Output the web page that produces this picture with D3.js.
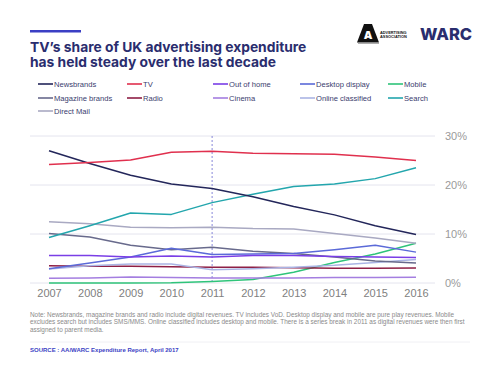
<!DOCTYPE html>
<html>
<head>
<meta charset="utf-8">
<script src="https://d3js.org/d3.v7.min.js"></script>
<style>
  body { margin: 0; background: #fff; }
  svg { display: block; }
</style>
</head>
<body>
<div id="chart"></div>
<script>

// data (share of UK ad spend, %)
var years = [2007, 2008, 2009, 2010, 2011, 2012, 2013, 2014, 2015, 2016];
var newsbrands     = [27.0, 24.4, 22.0, 20.2, 19.3, 17.6, 15.6, 13.9, 11.7, 9.9];
var tv             = [24.2, 24.6, 25.1, 26.7, 26.9, 26.5, 26.4, 26.3, 25.7, 25.0];
var outOfHome      = [5.6, 5.6, 5.3, 5.5, 5.3, 5.6, 5.6, 5.4, 5.3, 5.2];
var desktopDisplay = [2.9, 4.1, 5.3, 7.1, 5.8, 5.9, 6.0, 6.8, 7.7, 6.3];
var mobile         = [0.0, 0.0, 0.0, 0.05, 0.3, 0.7, 2.2, 4.2, 5.9, 8.1];
var magazineBrands = [10.1, 9.4, 7.7, 6.8, 7.3, 6.5, 6.0, 5.3, 4.5, 4.1];
var radio          = [3.5, 3.4, 3.4, 3.3, 3.2, 3.2, 3.1, 3.0, 3.0, 3.05];
var cinema         = [0.95, 1.0, 1.2, 1.1, 1.0, 1.0, 1.0, 1.1, 1.1, 1.15];
var onlineClass    = [2.85, 3.5, 3.9, 3.9, 2.7, 2.9, 3.2, 3.6, 4.2, 4.8];
var search         = [9.3, 11.7, 14.3, 14.0, 16.4, 18.1, 19.7, 20.2, 21.3, 23.5];
var directMail     = [12.5, 12.1, 11.4, 11.3, 11.4, 11.1, 11.0, 10.1, 9.2, 8.1];

var seriesNames = ["Newsbrands", "TV", "Out of home", "Desktop display", "Mobile",
                   "Magazine brands", "Radio", "Cinema", "Online classified", "Search",
                   "Direct Mail"];
var seriesValues = [newsbrands, tv, outOfHome, desktopDisplay, mobile,
                    magazineBrands, radio, cinema, onlineClass, search, directMail];
var seriesColors = ["#23265a", "#e0304e", "#7a3ee6", "#5b6ad8", "#2fc47a",
                    "#686a8c", "#8e1f45", "#a47ee0", "#aab4e4", "#23a6ad",
                    "#a9a9c2"];
var yTicks = [0, 10, 20, 30];
var breakYear = 2011;

var W = 500, H = 375;
var svg = d3.select("#chart").append("svg")
    .attr("width", W).attr("height", H);

var navy = "#2a2d6e";

// title block
svg.append("rect").attr("x", 30).attr("y", 30).attr("width", 51).attr("height", 2.5)
    .style("fill", "#3b3fc4");
var title = svg.append("text")
    .style("font-family", "Inter, 'Open Sans', sans-serif")
    .style("font-weight", "700")
    .style("font-size", "13.8px")
    .style("fill", navy);
title.append("tspan").attr("x", 30).attr("y", 52).text("TV\u2019s share of UK advertising expenditure");
title.append("tspan").attr("x", 30).attr("y", 67).text("has held steady over the last decade");

// AA logo (drawn) + WARC wordmark
var logo = svg.append("g").attr("transform", "translate(357,24)");
logo.append("path").attr("d", "M7,0 L15,0 L22,18.5 L0,18.5 Z").style("fill", "#111");
logo.append("text").attr("x", 11).attr("y", 15).attr("text-anchor", "middle")
    .style("font-family", "Inter, sans-serif").style("font-weight", "900")
    .style("font-size", "11px").style("fill", "#fff").text("A");
logo.append("rect").attr("x", 1).attr("y", 19).attr("width", 21).attr("height", 0.8).style("fill", "#999");
logo.append("text").attr("x", 23).attr("y", 9.5)
    .style("font-family", "Liberation Sans, Arial, sans-serif").style("font-weight", "700")
    .style("font-size", "3.9px").style("fill", "#111").text("ADVERTISING");
logo.append("text").attr("x", 23).attr("y", 13.5)
    .style("font-family", "Liberation Sans, Arial, sans-serif").style("font-weight", "700")
    .style("font-size", "3.9px").style("fill", "#111").text("ASSOCIATION");
svg.append("text").attr("x", 420).attr("y", 40)
    .style("font-family", "Inter, 'Open Sans', sans-serif")
    .style("font-weight", "800").style("font-size", "16.5px")
    .style("fill", navy).text("WARC");

// legend
var legX = [38, 127, 213, 300, 388];
var legY = [84, 98, 111];
var legend = svg.append("g");
seriesNames.forEach(function(name, i) {
  var col = i % 5, row = Math.floor(i / 5);
  var g = legend.append("g")
      .attr("transform", "translate(" + legX[col] + "," + legY[row] + ")");
  g.append("line").attr("x1", 0).attr("x2", 15).attr("y1", 0).attr("y2", 0)
      .style("stroke", seriesColors[i]).style("stroke-width", 1.6);
  g.append("text").attr("x", 16).attr("y", 2.8)
      .style("font-family", "Liberation Sans, Arial, sans-serif")
      .style("font-size", "7.6px").style("fill", "#3a3d6e")
      .text(name);
});

// scales
var x = d3.scaleLinear().domain([2007, 2016]).range([49, 416]);
var y = d3.scaleLinear().domain([0, 30]).range([283, 136]);

// gridlines
svg.append("g").selectAll("line")
    .data(yTicks).enter().append("line")
    .attr("x1", 30).attr("x2", 435)
    .attr("y1", function(d) { return y(d); })
    .attr("y2", function(d) { return y(d); })
    .style("stroke", "#e4e4ee").style("stroke-width", 1);

// y labels (right side)
var yAxis = svg.append("g")
    .attr("transform", "translate(445,0)")
    .call(d3.axisRight(y).tickValues(yTicks).tickSize(0).tickPadding(0)
          .tickFormat(function(d) { return d + "%"; }));
yAxis.select(".domain").remove();
yAxis.selectAll("text")
    .style("font-family", "Liberation Sans, Arial, sans-serif")
    .style("font-size", "11px").style("fill", "#9a9a9a");

// x labels
var xAxis = svg.append("g")
    .attr("transform", "translate(0,289)")
    .call(d3.axisBottom(x).tickValues(years).tickSize(0).tickPadding(0)
          .tickFormat(d3.format("d")));
xAxis.select(".domain").remove();
xAxis.selectAll("text")
    .style("font-family", "Liberation Sans, Arial, sans-serif")
    .style("font-size", "11px").style("fill", "#808080");

// series break marker
svg.append("line")
    .attr("x1", x(breakYear)).attr("x2", x(breakYear))
    .attr("y1", y(30)).attr("y2", y(0))
    .style("stroke", "#6a6ad0").style("stroke-width", 0.8)
    .style("stroke-dasharray", "2,2");

// lines
var line = d3.line()
    .x(function(d, i) { return x(years[i]); })
    .y(function(d) { return y(d); });

var drawOrder = [4, 7, 6, 8, 5, 3, 2, 10, 9, 0, 1];
drawOrder.forEach(function(i) {
  svg.append("path")
      .datum(seriesValues[i])
      .attr("fill", "none")
      .attr("stroke", seriesColors[i])
      .attr("stroke-width", 1.5)
      .attr("stroke-linejoin", "round")
      .attr("d", line);
});

// note + source
var noteLines = [
  "Note: Newsbrands, magazine brands and radio include digital revenues. TV includes VoD. Desktop display and mobile are pure play revenues. Mobile",
  "excludes search but includes SMS/MMS. Online classified includes desktop and mobile. There is a series break in 2011 as digital revenues were then first",
  "assigned to parent media."
];
svg.append("g").selectAll("text")
    .data(noteLines).enter().append("text")
    .attr("x", 30)
    .attr("y", function(d, i) { return 317 + i * 7.4; })
    .style("font-family", "Liberation Sans, Arial, sans-serif")
    .style("font-size", "6.4px").style("fill", "#8a8a8a")
    .text(function(d) { return d; });

svg.append("line").attr("x1", 30).attr("x2", 470).attr("y1", 342).attr("y2", 342)
    .style("stroke", "#f0f0f4").style("stroke-width", 1);

svg.append("text").attr("x", 30).attr("y", 352)
    .style("font-family", "Liberation Sans, Arial, sans-serif")
    .style("font-weight", "700").style("font-size", "6px")
    .style("fill", "#3b3fc4")
    .text("SOURCE : AA/WARC Expenditure Report, April 2017");

</script>
</body>
</html>
